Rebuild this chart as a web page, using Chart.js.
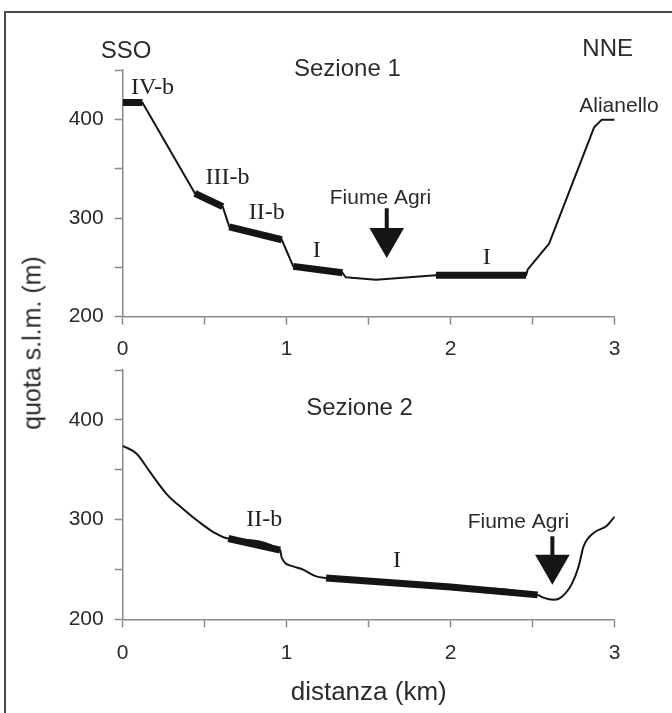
<!DOCTYPE html>
<html><head><meta charset="utf-8">
<script src="https://cdn.jsdelivr.net/npm/chart.js@4"></script>
<style>
html,body{margin:0;padding:0;background:#fff;}
#wrap{position:relative;width:672px;height:713px;overflow:hidden;background:#fff;}
#frame{position:absolute;left:4px;top:11px;width:700px;height:720px;border-top:2px solid #4a4a4a;border-left:2px solid #4a4a4a;}
canvas{position:absolute;left:0;}
#c1{top:0}
#c2{top:340px}
#ytitle{position:absolute;left:32px;top:343px;transform:translate(-50%,-50%) rotate(-90deg);font:25px "Liberation Sans",Arial,sans-serif;color:#2b2b2b;white-space:nowrap;}
</style></head>
<body>
<div id="wrap">
  <div id="frame"></div>
  <canvas id="c1" width="672" height="362"></canvas>
  <canvas id="c2" width="672" height="373"></canvas>
  <div id="ytitle">quota s.l.m. (m)</div>
</div>
<script>
// ---------- DATA ----------
// Sezione 1 profile (distance km, elevation m)
const s1X = [0, 0.12, 0.44, 0.61, 0.65, 0.97, 1.04, 1.34, 1.36, 1.545, 1.91, 2.46, 2.47, 2.60, 2.875, 2.92, 3.0];
const s1Y = [417, 417, 325, 311.5, 291, 278, 251, 244.5, 240, 237.5, 242, 242, 248, 274, 392, 399.5, 399.5];
// Sezione 1 terraces (thick segments)
const s1TerraceX = [[0, 0.12], [0.44, 0.61], [0.65, 0.97], [1.04, 1.34], [1.91, 2.46]];
const s1TerraceY = [[417, 417], [325, 311.5], [291, 278], [251, 244.5], [242, 242]];
// Sezione 1 river arrow
const s1RiverX = 1.61;
const s1RiverShaftY = [310, 288];
const s1RiverHeadY = 279.7;

// Sezione 2 profile
const s2X = [0, 0.085, 0.167, 0.268, 0.37, 0.47, 0.553, 0.644, 0.96, 0.97, 1.04, 1.10, 1.18, 1.24, 2.0, 2.53, 2.56, 2.63, 2.68, 2.74, 2.78, 2.81, 2.875, 2.95, 3.0];
const s2Y = [374, 366, 347.5, 325.6, 310.4, 297, 287.5, 281, 269.3, 261.6, 253, 249.8, 243, 241.5, 232.5, 224.5, 222, 219.5, 222.8, 236, 253, 273, 287, 293.5, 303];
// Sezione 2 terraces
const s2TerraceX = [[0.644, 0.96], [1.24, 2.0, 2.53]];
const s2TerraceY = [[281, 269.3], [241.5, 232.5, 224.5]];
// Sezione 2 river arrow
const s2RiverX = 2.62;
const s2RiverShaftY = [283.4, 264];
const s2RiverHeadY = 254.8;

// Tick labels
const xTickLabels = [0, 1, 2, 3];
const yTickLabels = [200, 300, 400];

// Annotations (text, anchor in data units)
const s1Texts = ['SSO', 'Sezione 1', 'NNE', 'Alianello', 'Fiume Agri'];
const s1TextX = [0.02, 1.37, 2.957, 3.026, 1.572];
const s1TextY = [468.7, 451, 470.7, 413, 320.3];
const s1TerraceNames = ['IV-b', 'III-b', 'II-b', 'I', 'I'];
const s1TerraceNameX = [0.182, 0.639, 0.878, 1.183, 2.22];
const s1TerraceNameY = [431.7, 340.5, 305, 266.8, 260];

const s2Texts = ['Sezione 2', 'Fiume Agri'];
const s2TextX = [1.444, 2.413];
const s2TextY = [411.4, 297.3];
const s2TerraceNames = ['II-b', 'I'];
const s2TerraceNameX = [0.863, 1.673];
const s2TerraceNameY = [299.5, 258.6];

// ---------- BUILD ----------
const SANS = '"Liberation Sans", Arial, sans-serif';
const SERIF = '"Liberation Serif", "Times New Roman", serif';
const AXIS = '#8a8a8a';
const INK = '#151515';
const TXT = '#2b2b2b';

function pts(xs, ys){ return xs.map((x,i)=>({x:x, y:ys[i]})); }

function makeDatasets(px, py, tx, ty, rx, shaftY, headY, smooth){
  const ds = [];
  ds.push({data: pts(px, py), borderColor: INK, borderWidth: 2, pointRadius: 0, tension: 0,
           cubicInterpolationMode: smooth ? 'monotone' : 'default', borderJoinStyle: 'round'});
  tx.forEach((seg, i) => {
    ds.push({data: pts(seg, ty[i]), borderColor: INK, borderWidth: 7, pointRadius: 0,
             borderCapStyle: 'butt', borderJoinStyle: 'round'});
  });
  ds.push({data: pts([rx, rx], shaftY), borderColor: INK, borderWidth: 4, pointRadius: 0, borderCapStyle: 'butt'});
  ds.push({data: [{x: rx, y: headY}], showLine: false, pointStyle: 'triangle', rotation: 180,
           pointRadius: 20, backgroundColor: INK, borderWidth: 0, pointHoverRadius: 20});
  return ds;
}

const textPlugin = {
  id: 'textLabels',
  afterDatasetsDraw(chart, args, opts){
    const ctx = chart.ctx, xs = chart.scales.x, ys = chart.scales.y;
    ctx.save();
    ctx.textAlign = 'center';
    ctx.textBaseline = 'middle';
    const groups = opts.groups || [];
    groups.forEach(g => {
      ctx.font = g.font;
      ctx.fillStyle = g.color;
      g.texts.forEach((t, i) => {
        ctx.fillText(t, xs.getPixelForValue(g.xs[i]), ys.getPixelForValue(g.ys[i]));
      });
    });
    ctx.restore();
  }
};

function makeChart(id, cfg){
  const canvasH = cfg.canvasH;
  return new Chart(document.getElementById(id), {
    type: 'line',
    data: {datasets: cfg.datasets},
    plugins: [textPlugin],
    options: {
      responsive: false,
      animation: false,
      events: [],
      layout: {padding: {top: cfg.areaTop, left: 0, right: 672 - 614.7, bottom: 0}},
      plugins: {
        legend: {display: false},
        tooltip: {enabled: false},
        textLabels: {groups: cfg.groups}
      },
      scales: {
        x: {
          type: 'linear', min: 0, max: 3,
          grid: {display: true, drawOnChartArea: false, drawTicks: true, tickLength: 8, tickColor: AXIS, tickWidth: 1.5},
          border: {display: true, color: AXIS, width: 1.5},
          ticks: {stepSize: 0.5, autoSkip: false, maxRotation: 0, padding: cfg.xPad,
                  color: TXT, font: {family: SANS, size: 21},
                  callback: v => xTickLabels.includes(v) ? String(v) : ''},
          title: cfg.xTitle ? {display: true, text: 'distanza (km)', color: TXT,
                  font: {family: SANS, size: 26}, padding: {top: 0, bottom: 5}} : {display: false},
          afterFit: s => { s.height = canvasH - cfg.areaBottom; s.paddingLeft = 0; s.paddingRight = 0; }
        },
        y: {
          type: 'linear', min: 200, max: 450,
          grid: {display: true, drawOnChartArea: false, drawTicks: true, tickLength: 8, tickColor: AXIS, tickWidth: 1.5},
          border: {display: true, color: AXIS, width: 1.5},
          ticks: {stepSize: 50, autoSkip: false, padding: 11, color: TXT, font: {family: SANS, size: 21},
                  callback: v => yTickLabels.includes(v) ? String(v) : ''},
          afterFit: s => { s.width = 122.7; s.paddingTop = 0; s.paddingBottom = 0; }
        }
      }
    }
  });
}

makeChart('c1', {
  canvasH: 362, areaTop: 70, areaBottom: 316.7, xPad: 12, xTitle: false,
  datasets: makeDatasets(s1X, s1Y, s1TerraceX, s1TerraceY, s1RiverX, s1RiverShaftY, s1RiverHeadY, false),
  groups: [
    {texts: s1Texts.slice(0, 3), xs: s1TextX.slice(0, 3), ys: s1TextY.slice(0, 3), font: '24px ' + SANS, color: TXT},
    {texts: s1Texts.slice(3), xs: s1TextX.slice(3), ys: s1TextY.slice(3), font: '21px ' + SANS, color: TXT},
    {texts: s1TerraceNames, xs: s1TerraceNameX, ys: s1TerraceNameY, font: '24px ' + SERIF, color: '#222'}
  ]
});

makeChart('c2', {
  canvasH: 373, areaTop: 30, areaBottom: 279.3, xPad: 13, xTitle: true,
  datasets: makeDatasets(s2X, s2Y, s2TerraceX, s2TerraceY, s2RiverX, s2RiverShaftY, s2RiverHeadY, true),
  groups: [
    {texts: s2Texts.slice(0, 1), xs: s2TextX.slice(0, 1), ys: s2TextY.slice(0, 1), font: '24px ' + SANS, color: TXT},
    {texts: s2Texts.slice(1), xs: s2TextX.slice(1), ys: s2TextY.slice(1), font: '21px ' + SANS, color: TXT},
    {texts: s2TerraceNames, xs: s2TerraceNameX, ys: s2TerraceNameY, font: '24px ' + SERIF, color: '#222'}
  ]
});
</script>
</body></html>
